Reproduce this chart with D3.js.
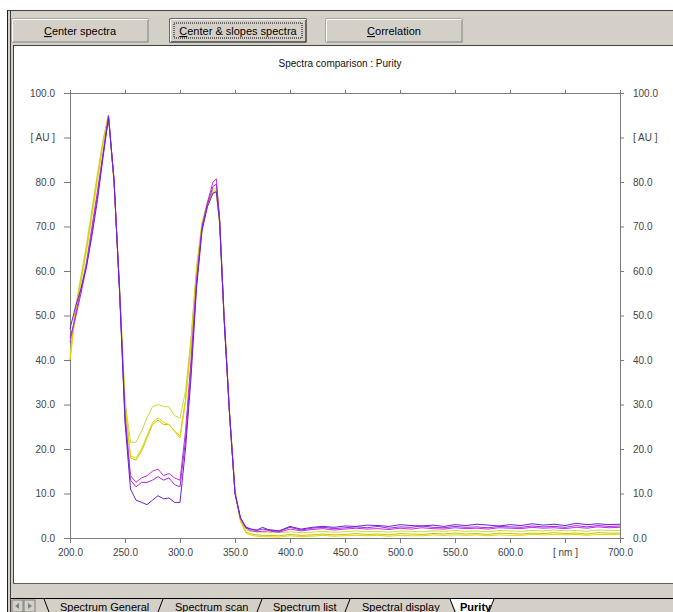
<!DOCTYPE html>
<html>
<head>
<meta charset="utf-8">
<script src="https://cdn.jsdelivr.net/npm/d3@7"></script>
<style>
  body { margin: 0; background: #fff; }
  svg text { font-family: "Liberation Sans", Arial, sans-serif; }
</style>
</head>
<body>
<script>
// wavelengths (nm)
var wavelengths = [200,205,210,215,220,225,230,235,240,245,250,255,260,265,270,275,280,285,290,295,
  300,305,310,315,320,325,330,333,336,340,345,350,355,360,365,370,375,380,
  390,400,410,420,430,440,450,460,470,480,490,500,510,520,530,540,550,560,570,580,590,600,
  610,620,630,640,650,660,670,680,690,700];

// absorbance [AU] per spectrum
var specLime = [41,52,59,66,74,82,89.5,95,80,57,31,21.5,21.5,24,27,29.5,30,29.5,29.5,27.5,
  27,33,45,61,71,75.5,78.5,78.5,72,51,29,11,4,1.8,1.5,1.4,1.3,1.3,
  1.2,1.4,1.2,1.3,1.5,1.3,1.4,1.6,1.4,1.5,1.3,1.6,1.5,1.4,1.6,1.5,1.7,1.5,1.6,1.4,1.7,1.6,1.5,1.7,1.6,1.8,1.6,1.7,1.5,1.8,1.7,1.7];
var specOlive = [40,51,58,65,73,81,89,95,80,56,30,18,17.5,19.5,22.5,25.5,26.5,25.5,25.5,24,
  23,31,44,60,70.5,75,78,78,71,50,28,10.5,3.8,1.3,0.9,0.7,0.6,0.6,
  0.5,0.8,0.6,0.7,0.9,0.7,0.8,1.0,0.8,0.9,0.7,1.0,0.9,0.8,1.0,0.9,1.1,0.9,1.0,0.8,1.1,1.0,0.9,1.1,1.0,1.2,1.0,1.1,0.9,1.2,1.1,1.1];
var specYellow = [40,50.5,57.5,64.5,72.5,80.5,88.5,95,80,56,30,18.5,18,20,23,26,27,26,25.5,24,
  22.5,30.5,43.5,59.5,70,74.5,77.5,77.5,70.5,50,28,10.5,3.7,1.1,0.6,0.4,0.3,0.3,
  0.2,0.5,0.3,0.4,0.6,0.4,0.5,0.6,0.5,0.6,0.4,0.6,0.5,0.5,0.7,0.6,0.7,0.6,0.7,0.5,0.7,0.6,0.6,0.8,0.7,0.8,0.7,0.8,0.6,0.8,0.8,0.8];
var specMagenta = [44,50,56,62,70,78,86.5,95,80.5,56,28,14,12.5,13.5,14,15,15.5,14,14.5,13.5,
  13,24,40,58,70,75.5,80,80.7,72,50,28,10,4.3,2.2,1.6,1.4,1.5,1.6,
  1.3,2.0,1.6,1.9,2.1,1.8,2.0,2.2,2.0,2.1,1.9,2.2,2.0,2.3,2.1,2.0,2.3,2.1,2.2,2.0,2.3,2.2,2.1,2.4,2.2,2.3,2.1,2.4,2.2,2.5,2.3,2.4];
var specPurple = [45,49.5,55,61,69,77,86,94.5,80.5,56,27,13,11.5,12.5,12.5,13,13.8,13,13.5,12,
  11.5,22,38,57,69.5,75,79,79.5,71.5,50,28,10,4.5,2.5,1.9,1.7,2.0,1.8,
  1.5,2.4,1.8,2.2,2.4,2.1,2.3,2.5,2.3,2.6,2.2,2.5,2.4,2.7,2.4,2.3,2.6,2.4,2.5,2.3,2.6,2.5,2.4,2.7,2.5,2.6,2.4,2.8,2.5,2.8,2.6,2.7];
var specViolet = [47,52,56,61,68,76,85.5,94.5,80.5,55.5,26,11,8.5,8,7.5,8.5,9.5,8.8,9,8,
  8,20,36,56,69,74.5,77.5,77.8,71,49.5,28,10,4.5,2.3,2.0,1.8,2.4,1.9,
  1.6,2.6,2.0,2.4,2.6,2.4,2.7,2.6,2.9,2.8,2.6,3.0,2.8,2.7,2.9,2.6,3.0,2.8,3.1,2.9,2.7,3.0,2.8,3.2,2.9,3.1,2.8,3.3,3.0,3.2,3.0,3.1];

var xTicks = [200,250,300,350,400,450,500,550,600,650,700];
var xTickLabels = ["200.0","250.0","300.0","350.0","400.0","450.0","500.0","550.0","600.0","[ nm ]","700.0"];
var yTicks = [0,10,20,30,40,50,60,70,80,90,100];
var yTickLabels = ["0.0","10.0","20.0","30.0","40.0","50.0","60.0","70.0","80.0","[ AU ]","100.0"];
var buttonLabels = ["Center spectra","Center & slopes spectra","Correlation"];
var tabLabels = ["Spectrum General","Spectrum scan","Spectrum list","Spectral display","Purity"];

var W = 673, H = 612;
var svg = d3.select("body").append("svg").attr("width", W).attr("height", H);

// window frame
svg.append("rect").attr("x", 7).attr("y", 10).attr("width", W - 7).attr("height", H - 10).attr("fill", "#d4d0c8");
svg.append("line").attr("x1", 7).attr("x2", W).attr("y1", 10.5).attr("y2", 10.5).attr("stroke", "#404040");
svg.append("line").attr("x1", 7.5).attr("x2", 7.5).attr("y1", 10).attr("y2", H).attr("stroke", "#202020");
svg.append("line").attr("x1", 10.5).attr("x2", 10.5).attr("y1", 10).attr("y2", H).attr("stroke", "#404040");

// buttons
var btnX = [12, 170, 326], btnW = 136;
buttonLabels.forEach(function(lbl, i){
  var g = svg.append("g").attr("transform", "translate(" + btnX[i] + ",19)");
  g.append("rect").attr("width", btnW).attr("height", 23).attr("fill", "#d4d0c8")
    .attr("stroke", i === 1 ? "#000" : "#808080");
  g.append("line").attr("x1", 0.5).attr("x2", btnW).attr("y1", 0.5).attr("y2", 0.5).attr("stroke", "#fff");
  g.append("line").attr("x1", 0.5).attr("x2", 0.5).attr("y1", 0.5).attr("y2", 23).attr("stroke", "#fff");
  if (i === 1) {
    g.append("rect").attr("x", 4).attr("y", 4).attr("width", btnW - 8).attr("height", 15)
      .attr("fill", "none").attr("stroke", "#000").attr("stroke-dasharray", "1,1");
  }
  var t = g.append("text").attr("x", btnW / 2).attr("y", 16).attr("text-anchor", "middle")
    .attr("font-size", 11).attr("fill", "#000");
  t.append("tspan").attr("text-decoration", "underline").text(lbl[0]);
  t.append("tspan").text(lbl.slice(1));
});

// chart panel
svg.append("rect").attr("x", 13).attr("y", 45).attr("width", W - 13).attr("height", 538)
  .attr("fill", "#fff");
svg.append("line").attr("x1", 13).attr("x2", W).attr("y1", 45.5).attr("y2", 45.5).attr("stroke", "#404040");
svg.append("line").attr("x1", 13.5).attr("x2", 13.5).attr("y1", 45).attr("y2", 583).attr("stroke", "#404040");
svg.append("line").attr("x1", 13).attr("x2", W).attr("y1", 583.5).attr("y2", 583.5).attr("stroke", "#606060");

svg.append("text").attr("x", 340).attr("y", 67).attr("text-anchor", "middle")
  .attr("font-size", 10).attr("fill", "#111").text("Spectra comparison : Purity");

var x = d3.scaleLinear().domain([200, 700]).range([70, 620]);
var y = d3.scaleLinear().domain([0, 100]).range([538, 93]);

var axisColor = "#7a7a7a", labelColor = "#444";

function styleAxis(g) {
  g.selectAll("path").attr("stroke", axisColor);
  g.selectAll("line").attr("stroke", axisColor);
  g.selectAll("text").attr("fill", labelColor).attr("font-size", 10).attr("font-family", "Liberation Sans, Arial, sans-serif");
}

svg.append("g").attr("transform", "translate(70,0)")
  .call(d3.axisLeft(y).tickValues(yTicks).tickSize(6).tickSizeOuter(0).tickPadding(9)
    .tickFormat(function(d, i){ return yTickLabels[i]; }))
  .call(styleAxis);

svg.append("g").attr("transform", "translate(620,0)")
  .call(d3.axisRight(y).tickValues(yTicks).tickSize(4).tickSizeOuter(0).tickPadding(9)
    .tickFormat(function(d, i){ return yTickLabels[i]; }))
  .call(styleAxis);

svg.append("g").attr("transform", "translate(0,538)")
  .call(d3.axisBottom(x).tickValues(xTicks).tickSize(5).tickSizeOuter(0).tickPadding(6)
    .tickFormat(function(d, i){ return xTickLabels[i]; }))
  .call(styleAxis);

svg.append("g").attr("transform", "translate(0,93)")
  .call(d3.axisTop(x).tickValues(xTicks).tickSize(3).tickSizeOuter(0).tickFormat(""))
  .call(styleAxis);

// extend frame lines a little like the original
svg.append("line").attr("x1", 64).attr("x2", 624).attr("y1", 93.5).attr("y2", 93.5).attr("stroke", axisColor);
svg.append("line").attr("x1", 64).attr("x2", 624).attr("y1", 538.5).attr("y2", 538.5).attr("stroke", axisColor);

// spectra
var series = [
  {vals: specLime, color: "#c8dc3c"},
  {vals: specOlive, color: "#c4c400"},
  {vals: specYellow, color: "#e0dc00"},
  {vals: specMagenta, color: "#cc30cc"},
  {vals: specPurple, color: "#a028e8"},
  {vals: specViolet, color: "#6424d4"}
];

var line = d3.line()
  .x(function(d){ return x(d[0]); })
  .y(function(d){ return y(d[1]); });

series.forEach(function(s){
  svg.append("path")
    .datum(wavelengths.map(function(w, i){ return [w, s.vals[i]]; }))
    .attr("d", line)
    .attr("fill", "none")
    .attr("stroke", s.color)
    .attr("stroke-width", 1);
});

// bottom tab strip
svg.append("rect").attr("x", 11).attr("y", 598).attr("width", W - 11).attr("height", 14).attr("fill", "#d4d0c8");
svg.append("line").attr("x1", 11).attr("x2", W).attr("y1", 598.5).attr("y2", 598.5).attr("stroke", "#000");
[12, 24].forEach(function(bx, i){
  svg.append("rect").attr("x", bx).attr("y", 600).attr("width", 11).attr("height", 12)
    .attr("fill", "#d4d0c8").attr("stroke", "#808080");
  svg.append("path").attr("fill", "#808080")
    .attr("d", i === 0 ? "M" + (bx + 7) + ",603 L" + (bx + 3) + ",606 L" + (bx + 7) + ",609 Z"
                       : "M" + (bx + 4) + ",603 L" + (bx + 8) + ",606 L" + (bx + 4) + ",609 Z");
});

var tabX = [60, 175, 273, 362, 460];
var sepX = [44, 163, 262, 350, 450, 494];
svg.append("path").attr("d", "M450,599 L457,612 L490,612 L494,599 Z").attr("fill", "#fff");
sepX.forEach(function(sx, i){
  svg.append("line").attr("x1", sx).attr("y1", 599)
    .attr("x2", (i === 0 || i === 4) ? sx + 5 : sx - 5).attr("y2", 612)
    .attr("stroke", "#000");
});
tabLabels.forEach(function(t, i){
  svg.append("text").attr("x", tabX[i]).attr("y", 611).attr("font-size", 11)
    .attr("font-weight", i === 4 ? "bold" : "normal").attr("fill", "#000").text(t);
});
</script>
</body>
</html>
